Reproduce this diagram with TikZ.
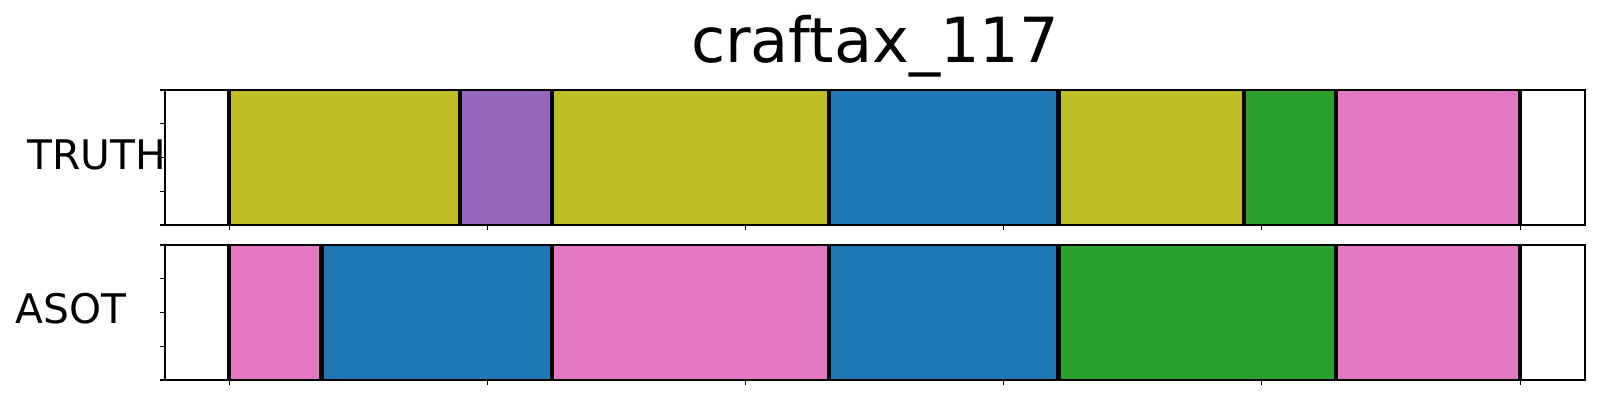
\documentclass[tikz,border=0pt]{standalone}
\usepackage{fontspec}
\setmainfont{DejaVu Sans}
\definecolor{tabblue}{HTML}{1F77B4}
\definecolor{tabgreen}{HTML}{2CA02C}
\definecolor{tabpurple}{HTML}{9467BD}
\definecolor{tabpink}{HTML}{E377C2}
\definecolor{tabolive}{HTML}{BCBD22}
\begin{document}
\begin{tikzpicture}[x=0.1mm,y=-0.1mm]
	\useasboundingbox (0,0) rectangle (1600,400);
	% truth segments
	\foreach \a/\b/\c in {229/460/tabolive, 460/552/tabpurple, 552/829/tabolive, 829/1058.5/tabblue, 1058.5/1244/tabolive, 1244/1336/tabgreen, 1336/1520/tabpink}
		\fill[\c] (\a,90) rectangle (\b,225);
	\foreach \x in {229,460,552,829,1058.5,1244,1336,1520}
		\draw[line width=0.45mm,black] (\x,90) -- (\x,225);
	% asot segments
	\foreach \a/\b/\c in {229/321.7/tabpink, 321.7/552/tabblue, 552/829/tabpink, 829/1058.5/tabblue, 1058.5/1336/tabgreen, 1336/1520/tabpink}
		\fill[\c] (\a,245) rectangle (\b,380);
	\foreach \x in {229,321.7,552,829,1058.5,1336,1520}
		\draw[line width=0.45mm,black] (\x,245) -- (\x,380);
	% frames and ticks
	\foreach \t in {90,245}{
		\draw[line width=0.12mm] (165,\t) rectangle (1585,\t+135);
		\foreach \k in {0,...,4}
			\draw[line width=0.12mm] (165,\t+33.75*\k) -- (160,\t+33.75*\k);
		\foreach \k in {0,...,5}
			\draw[line width=0.1mm] (229+258.2*\k,\t+135) -- (229+258.2*\k,\t+140);
	}
	\node[anchor=base,inner sep=0pt,font=\fontsize{17.7}{20}\selectfont] (title) at (875,62) {craftax\_117};
	\node[anchor=base west,inner sep=0pt,font=\fontsize{11.6}{14}\selectfont] (truth) at (27,169) {TRUTH};
	\node[anchor=base west,inner sep=0pt,font=\fontsize{11.6}{14}\selectfont] (asot) at (15,323) {ASOT};
\end{tikzpicture}
\end{document}
